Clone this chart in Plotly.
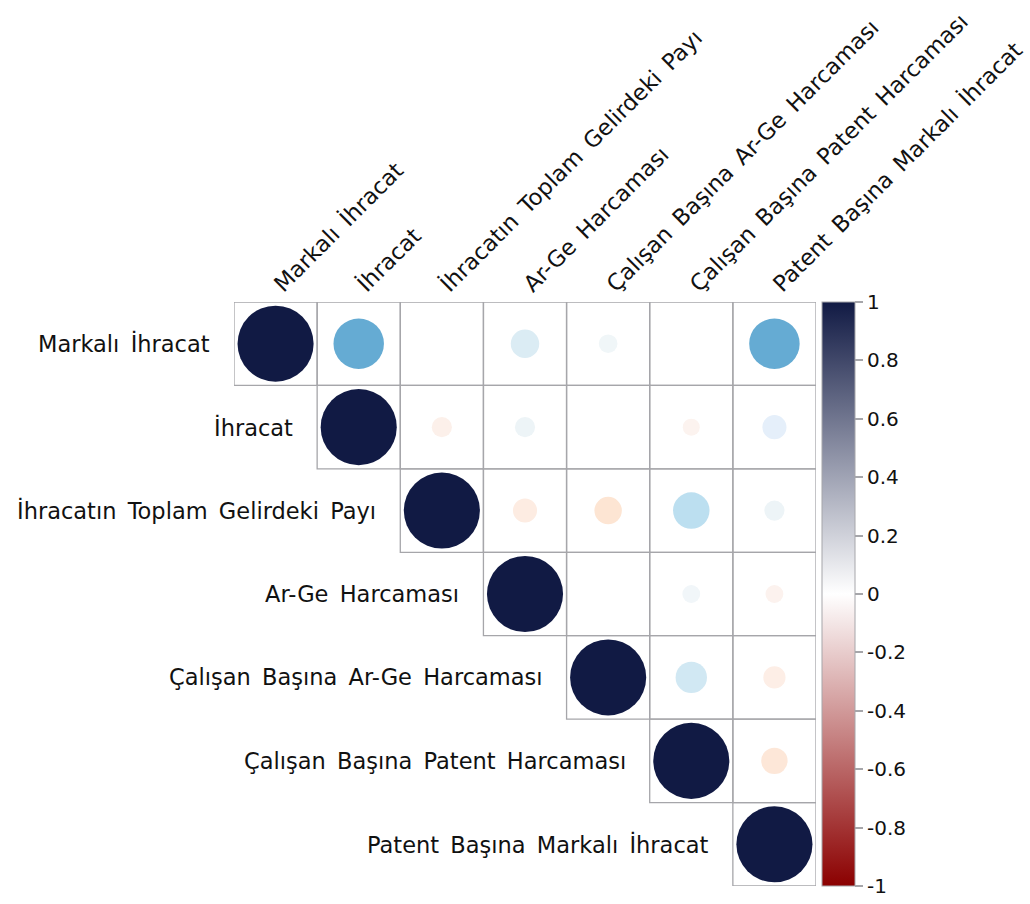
import plotly.graph_objects as go

# Variable names (rows and columns of the correlation matrix)
labels = [
    "Markalı İhracat",
    "İhracat",
    "İhracatın Toplam Gelirdeki Payı",
    "Ar-Ge Harcaması",
    "Çalışan Başına Ar-Ge Harcaması",
    "Çalışan Başına Patent Harcaması",
    "Patent Başına Markalı İhracat",
]

# Upper-triangle correlation values, one list per row (starting at the diagonal)
row_markali = [1.00, 0.44, 0.00, 0.14, 0.06, 0.00, 0.44]
row_ihracat = [1.00, -0.07, 0.07, 0.00, -0.05, 0.10]
row_pay = [1.00, -0.10, -0.13, 0.23, 0.07]
row_arge = [1.00, 0.00, 0.055, -0.055]
row_calisan_arge = [1.00, 0.17, -0.085]
row_calisan_patent = [1.00, -0.12]
row_patent = [1.00]

rows = [row_markali, row_ihracat, row_pay, row_arge,
        row_calisan_arge, row_calisan_patent, row_patent]

# Colour-bar tick marks
cbar_ticks = [1, 0.8, 0.6, 0.4, 0.2, 0, -0.2, -0.4, -0.6, -0.8, -1]
cbar_ticktext = ["1", "0.8", "0.6", "0.4", "0.2", "0", "-0.2", "-0.4", "-0.6", "-0.8", "-1"]

FONT = "DejaVu Sans"
FSIZE = 22.5
n = len(labels)
W, H = 1030, 904
ML, MR, MT, MB = 234, 214, 302, 18
cell_px = (W - ML - MR) / n

# Wider word gaps for the variable names
shown = [name.replace(" ", "\u2002") for name in labels]

xs, ys, vals = [], [], []
for i, row in enumerate(rows):
    for k, v in enumerate(row):
        xs.append(i + k)
        ys.append(i)
        vals.append(v)

sizes = [0.915 * cell_px * abs(v) ** 0.5 for v in vals]

def norm(v):
    return (v + 1) / 2

circle_scale = [
    [norm(-1.0), "#8b0000"],
    [norm(-0.2), "#fcd3bb"],
    [norm(-0.13), "#fde5d3"],
    [norm(-0.1), "#fdece2"],
    [norm(-0.05), "#fcf3ef"],
    [norm(0.0), "#ffffff"],
    [norm(0.07), "#edf4f7"],
    [norm(0.1), "#e5effa"],
    [norm(0.14), "#dbecf4"],
    [norm(0.23), "#bcdff0"],
    [norm(0.44), "#65abd3"],
    [norm(0.7), "#2d6aa5"],
    [norm(1.0), "#111a44"],
]

bar_scale = [
    [0.0, "#8b0000"],
    [0.5, "#ffffff"],
    [1.0, "#111a44"],
]

fig = go.Figure()

# Correlation circles
fig.add_trace(go.Scatter(
    x=xs, y=ys, mode="markers",
    marker=dict(size=sizes, color=vals, colorscale=circle_scale,
                cmin=-1, cmax=1, line=dict(width=0), opacity=1,
                showscale=False),
    hoverinfo="skip", showlegend=False,
))

# Colour bar
fig.add_trace(go.Scatter(
    x=[None], y=[None], mode="markers",
    marker=dict(color=[0], colorscale=bar_scale, cmin=-1, cmax=1,
                showscale=True,
                colorbar=dict(
                    x=(822 - ML) / (W - ML - MR), xanchor="left",
                    y=0.5, yanchor="middle", len=1, lenmode="fraction",
                    thickness=33, thicknessmode="pixels",
                    outlinecolor="#a6a6aa", outlinewidth=1,
                    tickmode="array", tickvals=cbar_ticks, ticktext=cbar_ticktext,
                    ticks="outside", ticklen=8, tickwidth=1.5, tickcolor="#a6a6aa",
                    tickfont=dict(family=FONT, size=20, color="#111111"),
                    ypad=0, xpad=0,
                )),
    hoverinfo="skip", showlegend=False,
))

# Cell grid for the upper triangle
for i in range(n):
    for j in range(i, n):
        fig.add_shape(type="rect", x0=j - 0.5, x1=j + 0.5, y0=i - 0.5, y1=i + 0.5,
                      xref="x", yref="y", line=dict(color="#a6a6aa", width=1.3),
                      fillcolor="rgba(0,0,0,0)", layer="below")

# Row labels placed next to the diagonal
for i, name in enumerate(shown):
    fig.add_annotation(x=i - 0.5, y=i, xref="x", yref="y", text=name,
                       showarrow=False, xanchor="right", yanchor="middle",
                       xshift=-22, font=dict(family=FONT, size=FSIZE, color="#111111"))

fig.update_layout(
    width=W, height=H,
    margin=dict(l=ML, r=MR, t=MT, b=MB, autoexpand=False),
    paper_bgcolor="white", plot_bgcolor="white",
    xaxis=dict(range=[-0.5, n - 0.5], side="top", tickmode="array",
               tickvals=list(range(n)), ticktext=shown, tickangle=-45,
               ticks="", showgrid=False, zeroline=False, showline=False,
               ticklabelstandoff=0, automargin=False,
               tickfont=dict(family=FONT, size=FSIZE, color="#111111")),
    yaxis=dict(range=[n - 0.5, -0.5], showticklabels=False, showgrid=False,
               zeroline=False, showline=False, automargin=False),
)

fig.write_html("out.html")
